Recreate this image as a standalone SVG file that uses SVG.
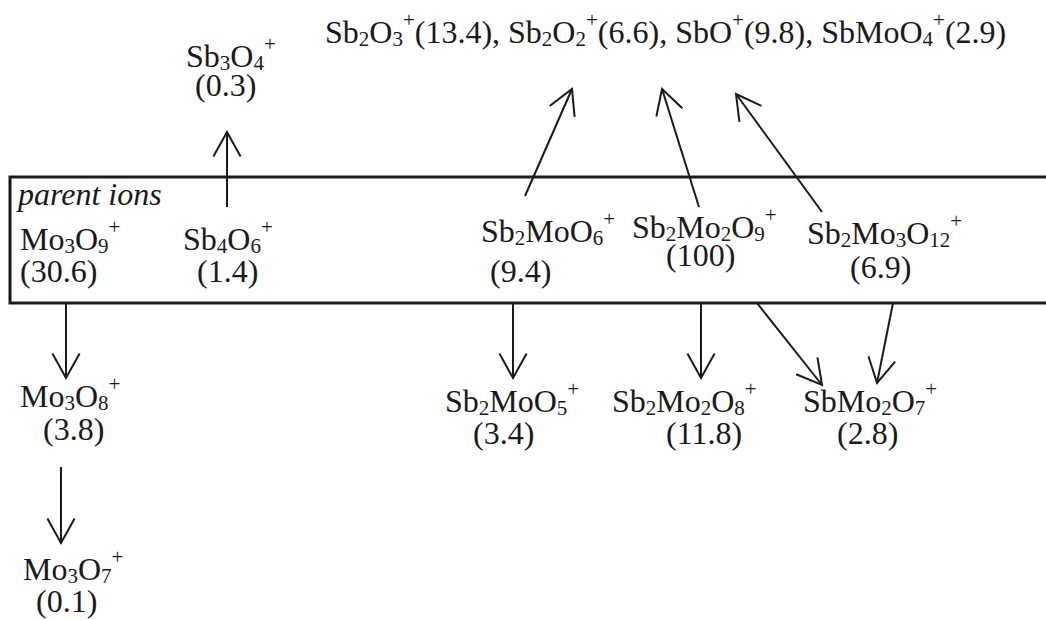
<svg xmlns="http://www.w3.org/2000/svg" width="1046" height="620" viewBox="0 0 1046 620">
  <style>
    .t { font-family: 'Liberation Serif', Tinos, 'Times New Roman', Times, 'DejaVu Serif', serif; font-size: 32px; fill: #1a1a1a; }
    .it { font-style: italic; }
    .s { font-size: 21px; }
    .p { font-size: 21px; }
    .ln { fill: none; stroke: #1a1a1a; stroke-width: 2; marker-end: url(#head); }
    .frame { fill: none; stroke: #1a1a1a; stroke-width: 3; }
  </style>
  <defs>
    <marker id="head" markerUnits="userSpaceOnUse" viewBox="-30 -16 32 32" markerWidth="32" markerHeight="32" refX="0" refY="0" orient="auto" overflow="visible">
      <path d="M -24.5,-13.6 L 0,0 L -24.5,13.6" fill="none" stroke="#1a1a1a" stroke-width="2" stroke-linejoin="miter"/>
    </marker>
  </defs>

  <rect width="1046" height="620" fill="#ffffff"/>

  <!-- parent-ion frame (open on the right) -->
  <g id="parent-frame">
    <rect class="frame" x="10" y="177" width="1060" height="126"/>
    <text class="t it" x="18" y="205">parent ions</text>
  </g>

  <!-- fragment summary line -->
  <g id="n-fragments">
    <text class="t" x="325" y="43">Sb<tspan class="s" dy="3">2</tspan><tspan dy="-3">O</tspan><tspan class="s" dy="3">3</tspan><tspan class="p" dy="-19">+</tspan><tspan dy="16">(13.4), Sb</tspan><tspan class="s" dy="3">2</tspan><tspan dy="-3">O</tspan><tspan class="s" dy="3">2</tspan><tspan class="p" dy="-19">+</tspan><tspan dy="16">(6.6), SbO</tspan><tspan class="p" dy="-16">+</tspan><tspan dy="16">(9.8), SbMoO</tspan><tspan class="s" dy="3">4</tspan><tspan class="p" dy="-19">+</tspan><tspan dy="16">(2.9)</tspan></text>
  </g>

  <g id="n-sb3o4">
    <text class="t" x="186" y="67">Sb<tspan class="s" dy="3">3</tspan><tspan dy="-3">O</tspan><tspan class="s" dy="3">4</tspan><tspan class="p" dy="-19">+</tspan></text>
    <text class="t" x="195" y="96">(0.3)</text>
  </g>

  <g id="n-mo3o9">
    <text class="t" x="20" y="250">Mo<tspan class="s" dy="3">3</tspan><tspan dy="-3">O</tspan><tspan class="s" dy="3">9</tspan><tspan class="p" dy="-19">+</tspan></text>
    <text class="t" x="20" y="282">(30.6)</text>
  </g>

  <g id="n-sb4o6">
    <text class="t" x="183" y="250">Sb<tspan class="s" dy="3">4</tspan><tspan dy="-3">O</tspan><tspan class="s" dy="3">6</tspan><tspan class="p" dy="-19">+</tspan></text>
    <text class="t" x="197" y="282">(1.4)</text>
  </g>

  <g id="n-sb2moo6">
    <text class="t" x="481" y="242">Sb<tspan class="s" dy="3">2</tspan><tspan dy="-3">MoO</tspan><tspan class="s" dy="3">6</tspan><tspan class="p" dy="-19">+</tspan></text>
    <text class="t" x="490" y="282">(9.4)</text>
  </g>

  <g id="n-sb2mo2o9">
    <text class="t" x="632" y="238">Sb<tspan class="s" dy="3">2</tspan><tspan dy="-3">Mo</tspan><tspan class="s" dy="3">2</tspan><tspan dy="-3">O</tspan><tspan class="s" dy="3">9</tspan><tspan class="p" dy="-19">+</tspan></text>
    <text class="t" x="666" y="266">(100)</text>
  </g>

  <g id="n-sb2mo3o12">
    <text class="t" x="807" y="244">Sb<tspan class="s" dy="3">2</tspan><tspan dy="-3">Mo</tspan><tspan class="s" dy="3">3</tspan><tspan dy="-3">O</tspan><tspan class="s" dy="3">12</tspan><tspan class="p" dy="-19">+</tspan></text>
    <text class="t" x="850" y="278">(6.9)</text>
  </g>

  <g id="n-mo3o8">
    <text class="t" x="20" y="407">Mo<tspan class="s" dy="3">3</tspan><tspan dy="-3">O</tspan><tspan class="s" dy="3">8</tspan><tspan class="p" dy="-19">+</tspan></text>
    <text class="t" x="43" y="440">(3.8)</text>
  </g>

  <g id="n-mo3o7">
    <text class="t" x="23" y="580">Mo<tspan class="s" dy="3">3</tspan><tspan dy="-3">O</tspan><tspan class="s" dy="3">7</tspan><tspan class="p" dy="-19">+</tspan></text>
    <text class="t" x="36" y="612">(0.1)</text>
  </g>

  <g id="n-sb2moo5">
    <text class="t" x="445" y="412">Sb<tspan class="s" dy="3">2</tspan><tspan dy="-3">MoO</tspan><tspan class="s" dy="3">5</tspan><tspan class="p" dy="-19">+</tspan></text>
    <text class="t" x="473" y="444">(3.4)</text>
  </g>

  <g id="n-sb2mo2o8">
    <text class="t" x="612" y="412">Sb<tspan class="s" dy="3">2</tspan><tspan dy="-3">Mo</tspan><tspan class="s" dy="3">2</tspan><tspan dy="-3">O</tspan><tspan class="s" dy="3">8</tspan><tspan class="p" dy="-19">+</tspan></text>
    <text class="t" x="666" y="444">(11.8)</text>
  </g>

  <g id="n-sbmo2o7">
    <text class="t" x="803" y="412">SbMo<tspan class="s" dy="3">2</tspan><tspan dy="-3">O</tspan><tspan class="s" dy="3">7</tspan><tspan class="p" dy="-19">+</tspan></text>
    <text class="t" x="837" y="444">(2.8)</text>
  </g>

  <!-- fragmentation arrows -->
  <g id="connectors">
    <line class="ln" x1="227" y1="207" x2="227" y2="132"/>
    <line class="ln" x1="525" y1="196" x2="572" y2="89"/>
    <line class="ln" x1="699" y1="207" x2="662" y2="89"/>
    <line class="ln" x1="822" y1="212" x2="736" y2="94"/>
    <line class="ln" x1="66" y1="303" x2="66" y2="378"/>
    <line class="ln" x1="61" y1="467" x2="61" y2="543"/>
    <line class="ln" x1="513" y1="303" x2="513" y2="378"/>
    <line class="ln" x1="701" y1="303" x2="701" y2="378"/>
    <line class="ln" x1="757" y1="303" x2="822" y2="385"/>
    <line class="ln" x1="893" y1="303" x2="877" y2="383"/>
  </g>
</svg>
